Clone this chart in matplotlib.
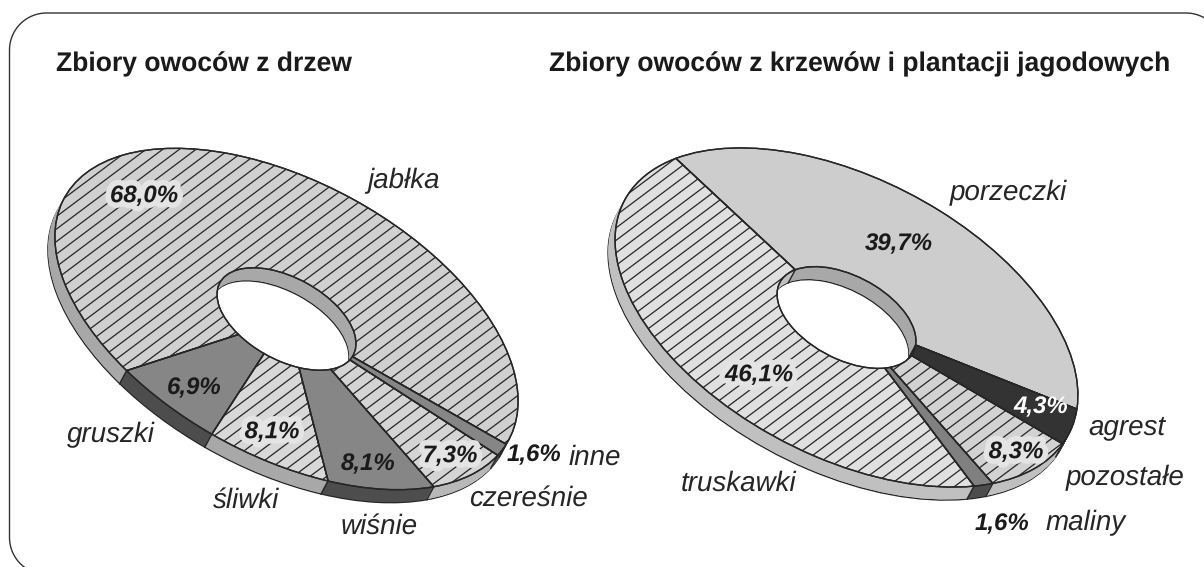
import numpy as np
import matplotlib
matplotlib.use("Agg")
import matplotlib.pyplot as plt
import matplotlib.patheffects as pe
from matplotlib.collections import LineCollection
from matplotlib.patches import PathPatch
from matplotlib.path import Path
from matplotlib.transforms import Affine2D

plt.rcParams['font.family'] = ['Liberation Sans', 'DejaVu Sans']
plt.rcParams['text.hinting'] = 'none'

# ---- data ----
title_left = "Zbiory owoców z drzew"
title_right = "Zbiory owoców z krzewów i plantacji jagodowych"

fruit_left = ["jabłka", "gruszki", "śliwki", "wiśnie", "czereśnie", "inne"]
values_left = [68.0, 6.9, 8.1, 8.1, 7.3, 1.6]

fruit_right = ["porzeczki", "truskawki", "maliny", "pozostałe", "agrest"]
values_right = [39.7, 46.1, 1.6, 8.3, 4.3]

# ---- styles ----
face_left = ['#d0d0d0', '#868686', '#d8d8d8', '#868686', '#d4d4d4', '#868686']
wall_left = ['#a8a8a8', '#4d4d4d', '#a8a8a8', '#4d4d4d', '#b8b8b8', '#4d4d4d']
hatch_left = [True, False, True, False, True, False]

face_right = ['#cdcdcd', '#e0e0e0', '#808080', '#d2d2d2', '#333333']
wall_right = ['#a8a8a8', '#c0c0c0', '#4d4d4d', '#c0c0c0', '#333333']
hatch_right = [False, True, False, True, False]

name_pos_left = [(403, 181), (111, 435), (246, 500), (379, 526), (528, 498), (595, 457)]
pct_pos_left = [(144, 196), (194, 388), (272, 432), (368, 464), (450, 456), (534, 455)]
pct_halo_left = [True, False, True, False, True, False]

name_pos_right = [(1008, 193), (739, 483), (1086, 523), (1125, 478), (1127, 427)]
pct_pos_right = [(899, 244), (759, 375), (1002, 524), (1016, 452), (1041, 407)]
pct_halo_right = [False, True, False, True, False]

HOLE = 0.30
INK = '#262626'

fig = plt.figure(figsize=(12.04, 5.67), dpi=100)
ax = fig.add_axes([0, 0, 1, 1])


def pct(v):
    return f"{v:.1f}".replace('.', ',') + '%'


def draw_outline(w):
    o = PathPatch(w.get_path(), transform=w.get_transform(), facecolor='none',
                  edgecolor=INK, linewidth=1.0, zorder=3)
    ax.add_patch(o)
    return o


def donut(values, names, faces, walls, hatched, name_pos, pct_pos, halos,
          centre, a, b, phi, start, shift, pct_colors=None):
    cx, cy = centre
    sx, sy = shift
    steps = int(np.ceil(max(abs(sx), abs(sy))))

    def tf(dx=0.0, dy=0.0):
        return (Affine2D().scale(a, b).rotate_deg(phi).scale(1, -1)
                .translate(cx + dx, cy + dy))

    def draw(colors, edge, lw, dx, dy):
        wedges, _ = ax.pie(values, colors=colors, startangle=start, counterclock=True,
                           radius=1.0, frame=True,
                           wedgeprops=dict(width=1 - HOLE, edgecolor=edge, linewidth=lw))
        for w in wedges:
            w.set_transform(tf(dx, dy) + ax.transData)
        return wedges

    # extruded side: stacked copies, the lowest one outlined
    for k in range(steps, 0, -1):
        f = k / steps
        if k == steps:
            draw(walls, INK, 1.0, sx * f, sy * f)
        else:
            wedges = draw(walls, 'none', 0, sx * f, sy * f)
            for w, c in zip(wedges, walls):
                w.set_edgecolor(c)
                w.set_linewidth(0.6)

    # joints between wall segments
    edges = start + np.cumsum([0] + list(values)) * 3.6
    t0 = tf()
    inv = t0.inverted()
    for t in np.radians(edges[:-1]):
        for r, visible in ((1.0, lambda q: q > 1.0), (HOLE, lambda q: q < HOLE)):
            p = t0.transform((r * np.cos(t), r * np.sin(t)))
            q = p + np.array([sx, sy])
            if visible(np.hypot(*inv.transform(q))):
                ax.plot([p[0], q[0]], [p[1], q[1]], color=INK, lw=1.0, zorder=1.5)

    # top face
    tops = draw(faces, INK, 1.0, 0, 0)
    for w in tops:
        w.set_zorder(2)

    # diagonal shading, clipped to the hatched wedges
    slope = 0.75
    gap = 12.5
    offs = np.arange(-900, 1300, gap)
    x0, x1 = cx - 300, cx + 300
    segs = [[(x0, cy + o + (cx - x0) * slope - 200), (x1, cy + o - (x1 - cx) * slope - 200)]
            for o in offs]
    for w, h in zip(tops, hatched):
        if h:
            lc = LineCollection(segs, colors=INK, linewidths=0.9, zorder=2.5)
            ax.add_collection(lc, autolim=False)
            lc.set_clip_path(w)
    for w in tops:
        draw_outline(w)

    # labels
    for n, p in zip(names, name_pos):
        ax.text(p[0], p[1], n, style='italic', fontsize=20, color=INK,
                ha='center', va='center', zorder=5)
    for i, (v, p, h) in enumerate(zip(values, pct_pos, halos)):
        col = pct_colors[i] if pct_colors else '#1a1a1a'
        t = ax.text(p[0], p[1], pct(v), style='italic', weight='bold', fontsize=17.3,
                    color=col, ha='center', va='center', zorder=5)
        if h:
            t.set_path_effects([pe.withStroke(linewidth=8, foreground='#e4e4e4')])


# rounded frame running off the right and bottom of the picture
R = 37.0
L, T, RI, BO = 9.5, 13.0, 1223.0, 574.5
arc = np.linspace(0, np.pi / 2, 24)
fx = np.concatenate([L + R - R * np.cos(arc),
                     RI - R + R * np.sin(arc),
                     RI - R + R * np.cos(arc),
                     L + R - R * np.sin(arc)])
fy = np.concatenate([T + R - R * np.sin(arc),
                     T + R - R * np.cos(arc),
                     BO - R + R * np.sin(arc),
                     BO - R + R * np.cos(arc)])
frame = PathPatch(Path(np.column_stack([np.append(fx, fx[0]), np.append(fy, fy[0])])),
                  facecolor='white', edgecolor='#333333', linewidth=1.0, zorder=0)
ax.add_patch(frame)

donut(values_left, fruit_left, face_left, wall_left, hatch_left,
      name_pos_left, pct_pos_left, pct_halo_left,
      centre=(286.5, 319), a=253, b=137, phi=-28.6, start=-2, shift=(-7, 13))

colors_r = ['#1a1a1a', '#1a1a1a', '#1a1a1a', '#1a1a1a', 'white']
donut(values_right, fruit_right, face_right, wall_right, hatch_right,
      name_pos_right, pct_pos_right, pct_halo_right,
      centre=(846.5, 317.5), a=251, b=139, phi=-27.7, start=10.8, shift=(-7, 13),
      pct_colors=colors_r)

ax.text(56, 71, title_left, fontsize=19.1, weight='bold', color='#1a1a1a',
        ha='left', va='baseline')
ax.text(549, 71, title_right, fontsize=19.1, weight='bold', color='#1a1a1a',
        ha='left', va='baseline')

ax.set_xlim(0, 1204)
ax.set_ylim(567, 0)
ax.set_aspect('auto')
ax.axis('off')
fig.savefig('out.png', dpi=100, facecolor='white')
